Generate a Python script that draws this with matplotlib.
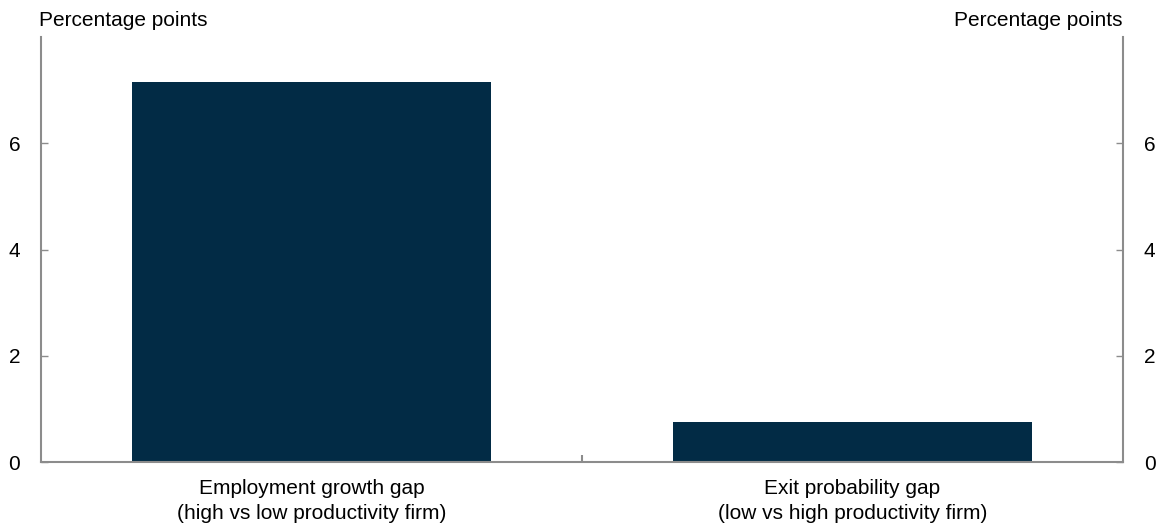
import matplotlib
matplotlib.use('Agg')
import matplotlib.pyplot as plt
import numpy as np

plt.rcParams['font.family'] = ['Liberation Sans', 'DejaVu Sans']

CATEGORIES = ['Employment growth gap\n(high vs low productivity firm)',
              'Exit probability gap\n(low vs high productivity firm)']
VALUES = [7.15, 0.76]
YTICKS = [0, 2, 4, 6]

BAR_COLOR = '#022B45'
AXIS_COLOR = '#8C8C8C'
FS = 15

fig = plt.figure(figsize=(11.61, 5.31), dpi=100)
ax = fig.add_axes([41/1161, 1 - 462/531, (1123-41)/1161, (462-37)/531])

ind = np.arange(len(CATEGORIES))
ax.bar(ind, VALUES, width=0.665, color=BAR_COLOR, zorder=2)

ax.set_xlim(-0.5, len(CATEGORIES) - 0.5)
ax.set_ylim(0, 8)
ax.set_yticks(YTICKS)
# separator tick between the categories, labels centred on the bars
ax.set_xticks(ind[:-1] + 0.5)
ax.set_xticklabels([])
ax.set_xticks(ind, minor=True)
ax.set_xticklabels(CATEGORIES, minor=True, fontsize=FS, linespacing=1.4)
ax.tick_params(axis='x', which='minor', length=0, pad=12)
ax.tick_params(axis='x', which='major', direction='in', length=5, color=AXIS_COLOR, width=1.5)
ax.tick_params(axis='y', direction='in', length=5, color=AXIS_COLOR, width=1,
               labelsize=FS, pad=15, right=True, labelright=True)

ax.spines['top'].set_visible(False)
for side in ['left', 'right', 'bottom']:
    ax.spines[side].set_color(AXIS_COLOR)
    ax.spines[side].set_linewidth(1.5)

fig.text(39/1161, 1 - 20/531, 'Percentage points', fontsize=FS, ha='left', va='center')
fig.text(1123/1161, 1 - 20/531, 'Percentage points', fontsize=FS, ha='right', va='center')

fig.savefig('out.png', dpi=100)
